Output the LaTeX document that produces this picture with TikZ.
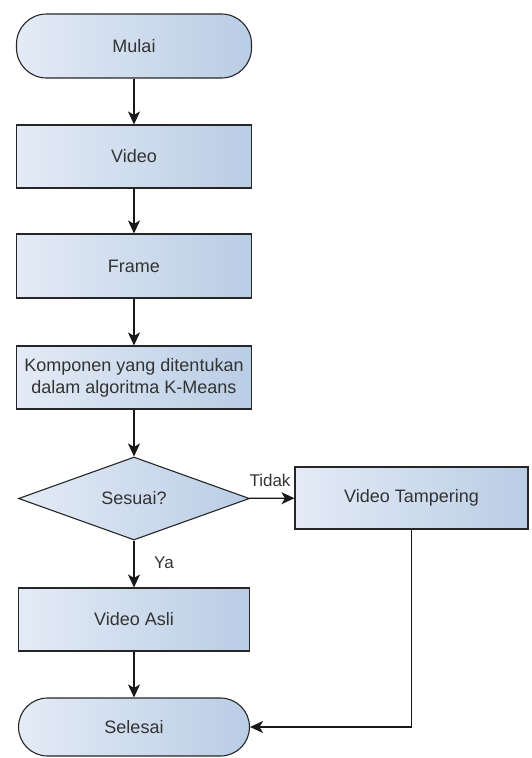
\documentclass[tikz,border=0pt]{standalone}
\usepackage{fontspec}
\setmainfont{Liberation Sans}
\usetikzlibrary{shapes.geometric,arrows.meta}
\begin{document}
\begin{tikzpicture}[x=1pt,y=-1pt,
  box/.style={draw=black!85, line width=1.1pt, left color={rgb,255:red,228;green,235;blue,246}, right color={rgb,255:red,185;green,205;blue,229}, text=black!80, font=\fontsize{18}{22}\selectfont, inner sep=0pt, align=center},
  term/.style={box, rounded corners=30pt},
  dec/.style={box, shape=diamond, aspect=2.78},
  arr/.style={draw=black!90, line width=1.1pt, -{Stealth[length=13pt,width=12pt,inset=3.5pt]}},
  lbl/.style={text=black!80, font=\fontsize{17}{20}\selectfont, inner sep=0pt}
]
\useasboundingbox (0,0) rectangle (531,758);
\node[term, minimum width=235pt, minimum height=64pt] (mulai) at (134,46) {Mulai};
\node[box, minimum width=235pt, minimum height=63pt] (video) at (134,156.5) {Video};
\node[box, minimum width=235pt, minimum height=64pt] (frame) at (134,266) {Frame};
\node[box, minimum width=235pt, minimum height=63pt] (komp) at (134,377.5) {Komponen yang ditentukan\\dalam algoritma K-Means};
\node[dec, minimum width=231pt, minimum height=83pt] (sesuai) at (134,498.5) {Sesuai?};
\node[box, minimum width=233pt, minimum height=62pt] (vt) at (411.5,498) {Video Tampering};
\node[box, minimum width=231pt, minimum height=63pt] (asli) at (134,619.5) {Video Asli};
\node[term, minimum width=231pt, minimum height=58pt, rounded corners=29pt] (selesai) at (134,727) {Selesai};
\coordinate (corner) at (vt.south |- selesai.east);
\draw[arr] (mulai) -- (video);
\draw[arr] (video) -- (frame);
\draw[arr] (frame) -- (komp);
\draw[arr] (komp) -- (sesuai);
\draw[arr] (sesuai) -- (vt);
\draw[arr] (sesuai) -- (asli);
\draw[arr] (asli) -- (selesai);
\draw[arr] (vt.south) -- (corner) -- (selesai.east);
\node[lbl] (tidak) at (270,480) {Tidak};
\node[lbl] (ya) at (164,563) {Ya};
\end{tikzpicture}
\end{document}
